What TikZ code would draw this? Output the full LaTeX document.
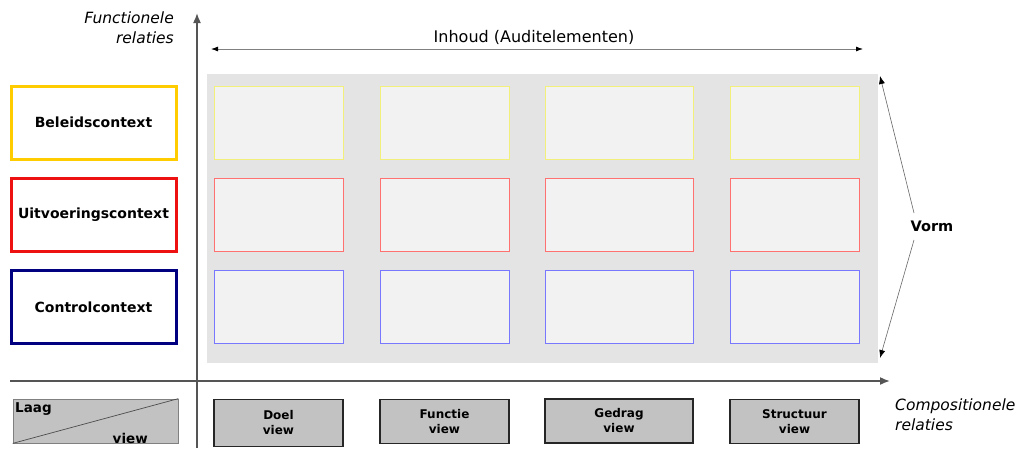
\documentclass[tikz,border=0pt]{standalone}
\usepackage{fontspec}
\setmainfont{DejaVu Sans}
\usetikzlibrary{arrows.meta}
\definecolor{bggray}{HTML}{E4E4E4}
\definecolor{cellfill}{HTML}{F2F2F2}
\definecolor{cyel}{HTML}{F2F07A}
\definecolor{cred}{HTML}{FF7070}
\definecolor{cblue}{HTML}{7878FF}
\definecolor{kyel}{HTML}{FFCC00}
\definecolor{kred}{HTML}{EE1111}
\definecolor{kblue}{HTML}{000080}
\definecolor{viewgray}{HTML}{C2C2C2}
\definecolor{axisgray}{HTML}{555555}
\tikzset{
  cell/.style={draw=#1, fill=cellfill, line width=0.9pt, inner sep=0pt},
  ctxbox/.style={draw=#1, line width=3pt, fill=white, inner sep=0pt, minimum width=165pt, minimum height=73pt, font=\bfseries\fontsize{14}{16}\selectfont},
  viewbox/.style={draw=black!85, fill=viewgray, line width=1.2pt, inner sep=0pt, align=center, font=\bfseries\fontsize{12}{15}\selectfont},
  axis/.style={draw=axisgray, line width=1.6pt, -{Latex[length=10pt,width=8pt]}},
  thinarrow/.style={draw=gray, line width=0.8pt, {Latex[length=7pt,width=5pt,color=black]}-{Latex[length=7pt,width=5pt,color=black]}},
  vormarrow/.style={draw=gray!80!black, line width=0.6pt, -{Latex[length=8pt,width=6pt,color=black]}},
  lbl/.style={inner sep=0pt}
}
\begin{document}
\begin{tikzpicture}[x=1pt,y=-1pt]
\useasboundingbox (0,0) rectangle (1021,448);
% background panel
\node[fill=bggray, inner sep=0pt, minimum width=671pt, minimum height=289pt] (bg) at (542.5,218.5) {};
% cells
\foreach \cx/\w [count=\i] in {278.5/129, 444.5/129, 619/148, 794.5/129} {
  \node[cell=cyel, minimum width=\w pt, minimum height=73pt] (y\i) at (\cx,122.5) {};
  \node[cell=cred, minimum width=\w pt, minimum height=73pt] (r\i) at (\cx,214.5) {};
  \node[cell=cblue, minimum width=\w pt, minimum height=73pt] (b\i) at (\cx,306.5) {};
}
% context boxes
\node[ctxbox=kyel] (beleid) at (93.5,122.5) {Beleidscontext};
\node[ctxbox=kred] (uitv) at (93.5,215) {Uitvoeringscontext};
\node[ctxbox=kblue] (control) at (93.5,307) {Controlcontext};
% axes
\coordinate (vbot) at (197,448);
\coordinate (vtop) at (197,13);
\coordinate (hleft) at (10,381);
\coordinate (hright) at (890,381);
\draw[axis] (vbot) -- (vtop);
\draw[axis] (hleft) -- (hright);
% Inhoud arrow
\coordinate (ileft) at (211,49);
\coordinate (iright) at (863,49);
\draw[thinarrow] (ileft) -- (iright);
\node[lbl, font=\fontsize{16}{18}\selectfont] (inhoud) at (534,37) {Inhoud (Auditelementen)};
% Vorm
\node[lbl, font=\bfseries\fontsize{14.5}{16}\selectfont] (vorm) at (932,226) {Vorm};
\coordinate (vtopc) at (880,76);
\coordinate (vbotc) at (880,358);
\draw[vormarrow] (914,213) -- (vtopc);
\draw[vormarrow] (914,240) -- (vbotc);
% axis labels
\node[lbl, align=right, anchor=north east, font=\itshape\fontsize{15.5}{20}\selectfont] (funrel) at (174,12) {Functionele\\relaties};
\node[lbl, align=left, anchor=north west, font=\itshape\fontsize{15.5}{20}\selectfont] (comprel) at (895,399) {Compositionele\\relaties};
% Laag/view box
\node[draw=gray, fill=viewgray, line width=0.8pt, inner sep=0pt, minimum width=165pt, minimum height=44pt] (laagview) at (95.5,421) {};
\draw[draw=black!70, line width=0.7pt] (laagview.south west) -- (laagview.north east);
\node[lbl, anchor=north west, font=\bfseries\fontsize{13.5}{15}\selectfont] (laag) at (15,402) {Laag};
\node[lbl, anchor=south east, font=\bfseries\fontsize{13.5}{15}\selectfont] (viewl) at (148,444) {view};
% view boxes
\node[viewbox, minimum width=129pt, minimum height=47pt] (doel) at (278.5,423) {Doel\\view};
\node[viewbox, minimum width=129pt, minimum height=44pt] (functie) at (444.5,421.5) {Functie\\view};
\node[viewbox, minimum width=148pt, minimum height=44pt] (gedrag) at (619,421) {Gedrag\\view};
\node[viewbox, minimum width=129pt, minimum height=44pt] (structuur) at (794.5,421.5) {Structuur\\view};
\end{tikzpicture}
\end{document}
